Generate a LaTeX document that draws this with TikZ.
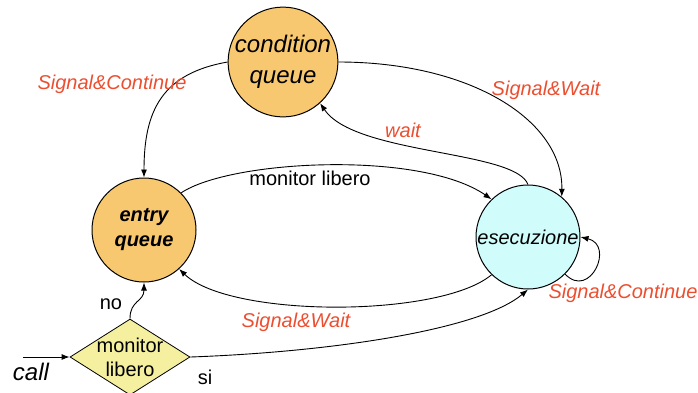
\documentclass[tikz,border=0pt]{standalone}
\usepackage{fontspec}
\setmainfont{Liberation Sans}
\usetikzlibrary{shapes.geometric}
\usetikzlibrary{arrows.meta}
\definecolor{qorange}{RGB}{248,200,112}
\definecolor{ecyan}{RGB}{208,252,252}
\definecolor{dyellow}{RGB}{245,240,160}
\definecolor{lblred}{RGB}{236,78,48}
\tikzset{   queue/.style = {circle, draw = black, line width=1pt, fill = qorange, minimum size = 104pt, inner sep=0pt, align=center},
            active/.style = {circle, draw = black, line width=1pt, fill = ecyan, minimum size = 104pt, inner sep=0pt, font=\fontsize{20}{24}\selectfont\itshape},
            check/.style = {diamond, draw = black, line width=0.8pt, fill = dyellow, minimum width=120pt, minimum height=76pt, inner sep=0pt},
            redtext/.style = {text = lblred, font=\fontsize{20}{24}\selectfont\itshape},
            plaintext/.style = {text = black, font=\fontsize{20}{24}\selectfont}}

\begin{document}
\begin{tikzpicture}[x=1pt,y=-1pt,>={Latex[length=8pt,width=6pt]}]
                        \useasboundingbox (0,0) rectangle (698,392);
                        \clip (0,0) rectangle (698,392);
                        % stati
                        \node[queue, font=\fontsize{24}{31}\selectfont\itshape] (cq) at (283,62) {condition\\queue};
                        \node[queue, font=\fontsize{20}{25}\selectfont\bfseries\itshape] (eq) at (144,230) {entry\\queue};
                        \node[active] (ex) at (528,237) {esecuzione};
                        \node[check, label={[plaintext, align=center]center:monitor\\libero}] (ml) at (130,357) {};
                        \node[plaintext, font=\fontsize{24}{28}\selectfont\itshape] (call) at (31,372) {call};
                        \coordinate (in) at (23,357);
                        % transizioni
                        \begin{scope}[line width=0.9pt]
                        \draw[->] (in) -- (ml.west);
                        \draw[->] (cq.west) to[out=190,in=90,looseness=1.2] (eq.north);
                        \draw[->] (cq.east) .. controls (470,62) and (563,120) .. (ex.50);
                        \draw[->] (ex.north) .. controls (515,150) and (355,155) .. (cq.-48);
                        \draw[->] (eq.45) .. controls (230,160) and (420,150) .. (ex.134);
                        \draw[->] (ex.226) .. controls (440,318) and (230,318) .. (eq.-48);
                        \draw[->] (ml.east) .. controls (330,352) and (480,330) .. (ex.south);
                        \draw[->] (ml.north) .. controls (130,300) and (144,302) .. (eq.south);
                        \draw[->] (ex.-45) .. controls (590,300) and (615,245) .. (ex.east);
                        \end{scope}
                        % etichette
                        \node[redtext] (sc1) at (112,84) {Signal\&Continue};
                        \node[redtext] (sw1) at (546,90) {Signal\&Wait};
                        \node[redtext] (wt) at (403,130) {wait};
                        \node[plaintext] (mlib) at (310,178) {monitor libero};
                        \node[redtext] (sw2) at (296,322) {Signal\&Wait};
                        \node[redtext] (sc2) at (623,293) {Signal\&Continue};
                        \node[plaintext] (no) at (111,304) {no};
                        \node[plaintext] (si) at (205,377) {si};
                      \end{tikzpicture}
\end{document}
